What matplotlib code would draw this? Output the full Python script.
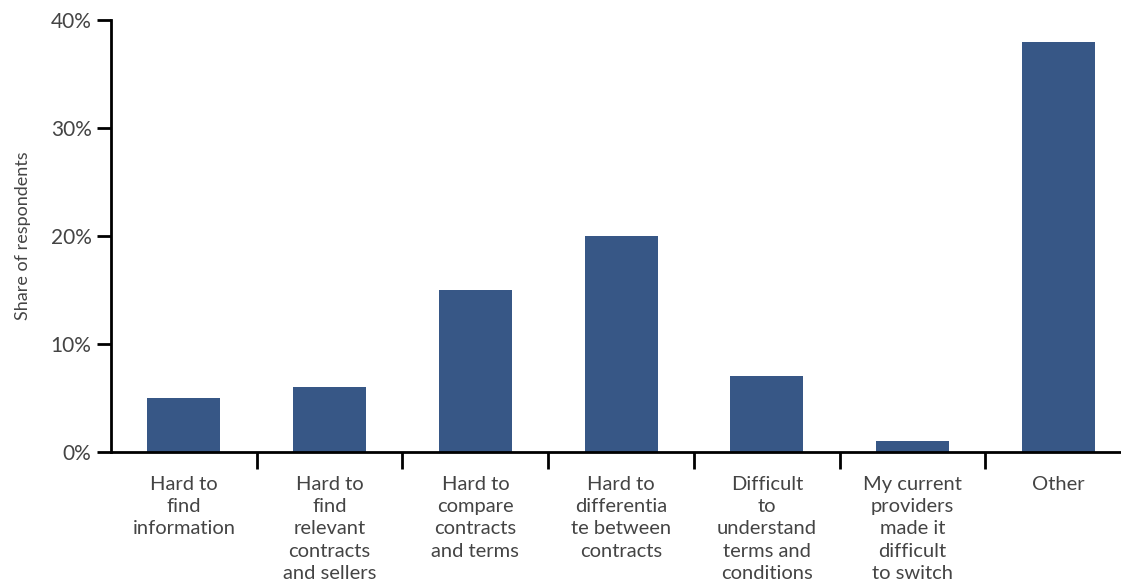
import numpy as np
import matplotlib.pyplot as plt
from matplotlib.ticker import FixedLocator, PercentFormatter

categories = [
    "Hard to\nfind\ninformation",
    "Hard to\nfind\nrelevant\ncontracts\nand sellers",
    "Hard to\ncompare\ncontracts\nand terms",
    "Hard to\ndifferentia\nte between\ncontracts",
    "Difficult\nto\nunderstand\nterms and\nconditions",
    "My current\nproviders\nmade it\ndifficult\nto switch",
    "Other",
]
shares = [5, 6, 15, 20, 7, 1, 38]
yticks = [0, 10, 20, 30, 40]

plt.rcParams['font.family'] = ['Lato', 'DejaVu Sans']
grey = "#444444"

fig = plt.figure(figsize=(11.21, 5.82), dpi=100)
ax = fig.add_axes([111 / 1121, 1 - 452 / 582, 1 - 111 / 1121, (452 - 20) / 582])

x = np.arange(len(categories))
ax.bar(x, shares, width=0.5, color="#375786")

ax.set_xlim(-0.5, 6.43)
ax.set_ylim(0, 40)

ax.set_yticks(yticks)
ax.yaxis.set_major_formatter(PercentFormatter(decimals=0))
ax.tick_params(axis='y', length=10, width=2, colors='black', labelcolor=grey,
               labelsize=15, pad=4)

ax.set_xticks(x)
ax.set_xticklabels(categories, fontsize=14.5, color=grey, linespacing=1.38)
ax.tick_params(axis='x', which='major', length=0, pad=17)
ax.xaxis.set_minor_locator(FixedLocator(x[:-1] + 0.5))
ax.tick_params(axis='x', which='minor', length=12, width=2, colors='black')

for s in ['top', 'right']:
    ax.spines[s].set_visible(False)
for s in ['left', 'bottom']:
    ax.spines[s].set_linewidth(2)

ax.set_ylabel("Share of respondents", fontsize=13, color=grey, labelpad=14)

fig.savefig("out.png", dpi=100)
